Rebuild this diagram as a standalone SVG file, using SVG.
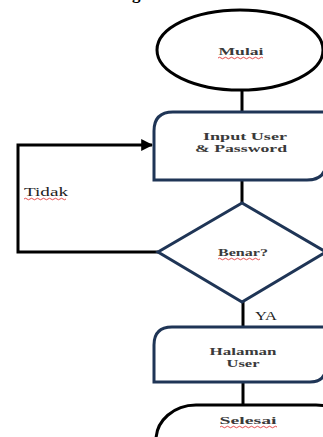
<svg xmlns="http://www.w3.org/2000/svg" width="323" height="437" viewBox="0 0 323 437">
<style>
.lbl{font-family:"Liberation Serif","Times New Roman",serif;font-weight:bold;font-size:11px;fill:#3a3a3a;text-anchor:middle}
.ml{font-size:10px}
.plain{font-family:"Liberation Serif","Times New Roman",serif;font-size:12px;fill:#222}
.term{fill:#fff;stroke:#000;stroke-width:3}
.proc{fill:#fff;stroke:#1f3556;stroke-width:3}
.conn{fill:none;stroke:#000;stroke-width:3}
.sq{fill:none;stroke:#d22;stroke-width:0.8}
</style>
<defs>
<marker id="arr" viewBox="0 0 10 10" refX="9" refY="5" markerWidth="4" markerHeight="4" orient="auto" markerUnits="strokeWidth">
<path d="M0,0 L10,5 L0,10 Z" fill="#000"/>
</marker>
</defs>
<rect width="323" height="437" fill="#fff"/>
<text x="193" y="-1" font-family="Liberation Serif, serif" font-weight="bold" font-size="17" text-anchor="end" fill="#000">Login User</text>
<g id="connectors">
<line class="conn" x1="242" y1="90" x2="242" y2="112"/>
<line class="conn" x1="242" y1="180" x2="242" y2="204"/>
<polyline class="conn" points="158,252 18,252 18,145 152,145" stroke-width="2.5" marker-end="url(#arr)"/>
<line class="conn" x1="243" y1="302" x2="243" y2="327"/>
<line class="conn" x1="243" y1="382" x2="243" y2="405"/>
<text class="plain" x="24" y="196" textLength="44" lengthAdjust="spacingAndGlyphs">Tidak</text>
<path class="sq" d="M24,199 q1.5,-1.5 3,0 t3,0 t3,0 t3,0 t3,0 t3,0 t3,0 t3,0 t3,0 t3,0 t3,0 t3,0 t3,0 t3,0"/>
<text class="plain" x="255" y="320" textLength="22" lengthAdjust="spacingAndGlyphs">YA</text>
</g>
<g id="mulai">
<ellipse class="term" cx="240" cy="50" rx="83" ry="40"/>
<text class="lbl" x="241" y="55" textLength="45" lengthAdjust="spacingAndGlyphs">Mulai</text>
<path class="sq" d="M218,58 q1.5,-1.5 3,0 t3,0 t3,0 t3,0 t3,0 t3,0 t3,0 t3,0 t3,0 t3,0 t3,0 t3,0 t3,0 t3,0 t3,0"/>
</g>
<g id="input">
<path class="proc" d="M154,180 L154,131 Q154,112 173,112 L326,112 L326,162 Q326,180 307,180 Z"/>
<text class="lbl ml" x="245" y="140" textLength="84" lengthAdjust="spacingAndGlyphs">Input User</text>
<text class="lbl ml" x="241" y="152" textLength="92" lengthAdjust="spacingAndGlyphs">&amp; Password</text>
</g>
<g id="benar">
<polygon class="proc" points="242,203 158,252 242,302 326,252"/>
<text class="lbl" x="243" y="256" font-weight="normal" textLength="50" lengthAdjust="spacingAndGlyphs">Benar?</text>
<path class="sq" d="M218,259 q1.5,-1.5 3,0 t3,0 t3,0 t3,0 t3,0 t3,0 t3,0 t3,0 t3,0 t3,0 t3,0 t3,0 t3,0 t3,0"/>
</g>
<g id="halaman">
<path class="proc" d="M154,382 L154,345 Q154,327 172,327 L326,327 L326,366 Q326,382 310,382 Z"/>
<text class="lbl ml" x="243" y="355" textLength="67" lengthAdjust="spacingAndGlyphs">Halaman</text>
<text class="lbl ml" x="243" y="367" textLength="33" lengthAdjust="spacingAndGlyphs">User</text>
</g>
<g id="selesai">
<rect class="term" x="156" y="405" width="200" height="70" rx="40" ry="35" stroke="#1f3556"/>
<text class="lbl" x="248" y="424" textLength="57" lengthAdjust="spacingAndGlyphs">Selesai</text>
<path class="sq" d="M220,427 q1.5,-1.5 3,0 t3,0 t3,0 t3,0 t3,0 t3,0 t3,0 t3,0 t3,0 t3,0 t3,0 t3,0 t3,0 t3,0 t3,0 t3,0 t3,0 t3,0 t3,0"/>
</g>
</svg>
